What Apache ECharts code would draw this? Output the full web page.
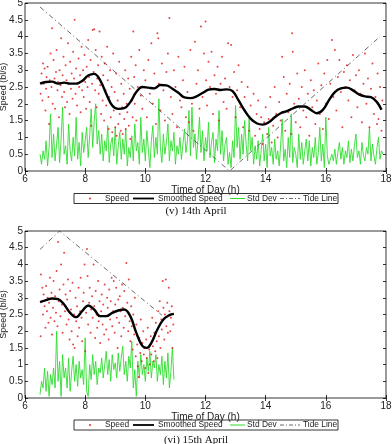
<!DOCTYPE html>
<html>
<head>
<meta charset="utf-8">
<script src="https://cdn.jsdelivr.net/npm/echarts@6/dist/echarts.min.js"></script>
<style>
html,body{margin:0;padding:0;background:#fff;}
#chart{width:392px;height:444px;}
</style>
</head>
<body>
<div id="chart"></div>
<script>
// ---- 14th April ----
const p1Speed = [[6.52,2.3],[6.55,2.9],[6.58,2.1],[6.6,3.2],[6.62,2.6],[6.65,3.05],[6.68,1.8],[6.7,2.45],[6.72,2.8],[6.75,3.1],[6.78,2.2],[6.8,1.4],[6.82,2.7],[6.85,3.5],[6.88,2.5],[6.9,4.25],[6.92,2.0],[6.95,3.3],[6.98,2.75],[7.0,1.85],[7.03,2.95],[7.05,3.6],[7.08,2.4],[7.1,2.65],[7.13,1.6],[7.15,3.0],[7.18,2.55],[7.2,3.95],[7.23,2.2],[7.25,2.85],[7.28,3.4],[7.3,2.35],[7.33,1.9],[7.35,3.15],[7.38,2.7],[7.4,2.05],[7.43,3.8],[7.45,2.6],[7.48,1.7],[7.5,3.25],[7.53,2.45],[7.55,2.9],[7.58,2.15],[7.6,3.55],[7.63,2.75],[7.65,4.5],[7.68,2.3],[7.7,3.05],[7.73,1.95],[7.75,2.6],[7.78,3.35],[7.8,2.5],[7.83,2.85],[7.85,1.75],[7.88,3.7],[7.9,2.4],[7.93,3.0],[7.95,2.2],[7.98,3.45],[8.0,2.65],[8.03,1.85],[8.05,3.1],[8.08,2.5],[8.1,3.9],[8.13,2.8],[8.15,2.05],[8.18,3.3],[8.2,1.35],[8.23,2.6],[8.25,4.2],[8.28,2.95],[8.3,4.22],[8.33,2.4],[8.35,3.6],[8.38,1.9],[8.4,2.75],[8.43,3.15],[8.45,2.3],[8.48,4.15],[8.5,2.55],[8.53,1.7],[8.55,3.4],[8.58,2.1],[8.6,2.85],[8.63,1.5],[8.65,3.2],[8.68,2.4],[8.7,1.95],[8.73,3.7],[8.75,2.7],[8.78,1.25],[8.8,2.2],[8.83,3.0],[8.85,1.6],[8.88,2.5],[8.9,1.15],[8.93,3.5],[8.95,1.8],[8.98,2.35],[9.0,1.3],[9.03,2.9],[9.05,1.05],[9.08,2.1],[9.1,1.4],[9.13,3.25],[9.15,1.7],[9.18,1.2],[9.2,2.6],[9.23,1.9],[9.25,1.1],[9.28,2.3],[9.3,1.55],[9.33,3.0],[9.35,1.25],[9.38,2.0],[9.4,1.75],[9.43,2.75],[9.45,1.35],[9.48,2.45],[9.5,0.95],[9.53,3.4],[9.55,2.1],[9.58,1.6],[9.6,4.15],[9.63,2.8],[9.65,2.0],[9.68,3.15],[9.7,1.5],[9.75,2.5],[9.8,3.6],[9.85,2.25],[9.9,1.85],[9.95,3.0],[10.0,2.7],[10.05,1.6],[10.1,3.3],[10.15,2.3],[10.2,3.8],[10.25,2.0],[10.3,2.9],[10.35,1.4],[10.4,4.1],[10.43,3.95],[10.45,2.6],[10.5,1.8],[10.55,3.2],[10.6,2.4],[10.65,1.5],[10.7,2.95],[10.75,3.5],[10.8,4.55],[10.85,2.2],[10.9,1.7],[10.95,3.0],[11.0,2.5],[11.05,1.3],[11.1,3.4],[11.15,2.1],[11.2,1.9],[11.25,2.7],[11.3,3.1],[11.35,1.6],[11.4,2.35],[11.45,1.45],[11.5,3.6],[11.55,2.0],[11.6,1.2],[11.65,3.85],[11.7,2.6],[11.75,3.0],[11.8,1.85],[11.85,4.3],[11.9,2.2],[11.95,3.5],[12.0,4.45],[12.02,2.7],[12.05,1.95],[12.1,3.25],[12.15,2.5],[12.2,3.55],[12.25,1.7],[12.3,2.85],[12.35,2.3],[12.4,3.1],[12.45,1.5],[12.5,2.6],[12.55,3.4],[12.6,2.05],[12.65,2.75],[12.7,1.85],[12.75,3.8],[12.8,2.5],[12.85,3.75],[12.9,2.2],[12.95,2.95],[13.0,1.6],[13.05,2.4],[13.1,3.15],[13.15,1.9],[13.2,2.65],[13.25,1.3],[13.3,2.2],[13.35,1.75],[13.4,2.5],[13.45,1.2],[13.5,1.95],[13.55,1.5],[13.6,2.3],[13.65,1.05],[13.7,1.7],[13.75,2.1],[13.8,1.25],[13.85,1.6],[13.9,0.8],[13.95,1.45],[14.0,1.9],[14.05,1.1],[14.1,1.55],[14.15,2.2],[14.2,0.85],[14.25,1.35],[14.3,2.5],[14.35,1.7],[14.4,1.0],[14.45,2.05],[14.5,1.5],[14.55,3.4],[14.6,2.8],[14.65,1.2],[14.7,2.3],[14.75,1.75],[14.8,2.6],[14.85,1.1],[14.88,4.1],[14.9,3.55],[14.95,2.0],[15.0,1.45],[15.05,2.9],[15.1,2.15],[15.15,1.3],[15.2,2.5],[15.25,1.8],[15.3,3.0],[15.35,1.6],[15.4,2.3],[15.45,1.05],[15.5,2.7],[15.55,1.9],[15.6,2.4],[15.65,1.4],[15.7,2.1],[15.75,3.2],[15.8,1.7],[15.85,2.55],[15.9,1.25],[15.95,2.9],[16.0,2.0],[16.05,3.3],[16.1,1.55],[16.15,2.6],[16.2,3.9],[16.25,2.2],[16.3,3.6],[16.35,1.8],[16.4,2.8],[16.45,3.3],[16.5,2.35],[16.55,1.3],[16.6,2.95],[16.65,2.5],[16.7,3.15],[16.75,2.1],[16.8,2.7],[16.85,1.6],[16.9,3.45],[16.95,2.4],[17.0,2.85],[17.05,1.9],[17.1,3.0],[17.15,2.3],[17.2,1.45],[17.25,2.6],[17.3,3.5],[17.35,2.0],[17.4,2.75],[17.45,1.3],[17.5,2.45],[17.55,3.2],[17.6,1.7],[17.65,2.2],[17.7,1.4],[17.72,2.9],[17.75,1.55],[17.8,2.5],[17.85,1.2],[17.88,2.1]];

const p1Smooth = [[6.5,2.6],[6.7,2.65],[6.9,2.66],[7.1,2.6],[7.3,2.63],[7.5,2.6],[7.7,2.6],[7.9,2.68],[8.1,2.84],[8.3,2.89],[8.5,2.7],[8.7,2.3],[8.9,1.95],[9.1,1.85],[9.3,1.87],[9.5,2.05],[9.7,2.35],[9.9,2.5],[10.1,2.48],[10.3,2.46],[10.5,2.56],[10.7,2.55],[10.9,2.45],[11.1,2.33],[11.3,2.19],[11.5,2.17],[11.7,2.22],[11.9,2.32],[12.1,2.42],[12.3,2.44],[12.5,2.41],[12.7,2.43],[12.9,2.38],[13.1,2.1],[13.3,1.8],[13.5,1.56],[13.7,1.42],[13.9,1.38],[14.1,1.45],[14.3,1.6],[14.5,1.72],[14.7,1.78],[14.9,1.86],[15.1,1.92],[15.3,1.92],[15.5,1.82],[15.7,1.72],[15.9,1.82],[16.1,2.1],[16.3,2.35],[16.5,2.46],[16.7,2.48],[16.9,2.4],[17.1,2.28],[17.3,2.22],[17.5,2.2],[17.7,2.05],[17.85,1.82]];

const p1StdStart = 6.5;
const p1Std = [0.5,0.2,0.6,0.35,0.9,0.15,0.7,1.7,0.4,1.1,0.3,0.8,1.3,0.25,0.95,1.9,0.5,0.75,0.2,1.4,
  0.6,0.3,1.0,0.45,1.6,0.35,0.85,0.15,1.15,0.55,0.9,1.3,0.4,1.05,1.85,0.7,1.5,2.0,0.8,1.2,
  0.5,1.1,0.3,0.9,0.6,1.35,0.25,0.8,1.0,0.45,1.3,0.2,0.75,1.15,0.35,0.95,0.5,1.25,0.15,0.7,
  0.4,1.05,0.3,1.4,0.6,0.85,0.2,1.6,0.55,0.95,0.3,1.2,0.65,0.1,0.9,1.35,0.4,1.0,0.5,2.15,
  0.7,0.25,1.1,0.5,0.85,1.4,0.3,0.9,0.6,1.15,0.2,0.75,0.5,1.0,0.35,0.8,1.25,0.55,0.9,1.8,
  0.45,1.9,0.7,1.1,0.35,0.9,1.6,0.55,1.2,0.3,1.0,0.6,1.45,0.4,0.85,1.15,0.25,0.95,0.6,1.8,
  0.5,1.2,0.3,0.8,1.0,0.2,0.55,0.1,0.9,0.4,1.95,0.7,1.3,0.35,1.1,0.5,1.5,0.8,0.3,1.6,
  0.6,1.0,0.2,0.75,0.35,0.9,0.15,0.6,1.1,0.3,0.8,0.1,1.3,0.45,0.7,0.2,0.95,0.35,0.6,0.15,
  0.8,1.55,0.3,0.65,0.1,1.0,0.4,1.7,0.25,0.7,0.5,0.1,1.1,0.35,0.85,0.2,0.6,0.95,0.3,0.9,
  0.15,0.7,0.4,1.0,0.2,0.55,1.3,0.3,0.8,0.1,1.6,0.45,0.2,0.15,0.5,0.3,0.65,0.2,0.55,0.85,
  0.35,0.7,0.2,0.6,0.4,0.9,0.25,0.65,0.3,0.75,1.1,0.4,0.6,0.2,0.85,0.45,0.3,0.7,0.5,1.3,
  0.3,0.8,0.45,0.2,0.7,1.0,0.35,0.6,0.5];

const p1Tide = [[6.5,4.88],[12.8,0],[17.8,4.0]];

// ---- 15th April ----
const p2Speed = [[6.52,1.85],[6.53,3.7],[6.56,2.9],[6.58,3.3],[6.6,2.5],[6.62,3.1],[6.65,2.75],[6.68,2.1],[6.7,3.35],[6.73,2.6],[6.75,3.0],[6.78,2.25],[6.8,2.85],[6.83,3.6],[6.85,2.4],[6.88,3.15],[6.9,1.9],[6.93,2.7],[6.95,3.5],[6.98,2.3],[7.0,3.05],[7.03,2.55],[7.05,3.8],[7.08,2.15],[7.1,4.67],[7.12,2.9],[7.15,3.25],[7.18,2.45],[7.2,4.0],[7.23,2.8],[7.25,1.95],[7.28,3.4],[7.3,4.35],[7.33,2.6],[7.35,3.1],[7.38,2.2],[7.4,2.95],[7.43,3.55],[7.45,2.35],[7.48,1.75],[7.5,3.2],[7.53,2.65],[7.55,2.0],[7.58,3.45],[7.6,1.6],[7.63,2.5],[7.65,1.5],[7.68,3.0],[7.7,2.3],[7.73,2.75],[7.75,1.85],[7.78,3.3],[7.8,2.1],[7.83,2.6],[7.85,3.6],[7.88,2.4],[7.9,1.7],[7.93,2.9],[7.95,3.15],[7.98,4.0],[8.0,1.4],[8.03,2.55],[8.06,4.46],[8.08,3.65],[8.1,2.2],[8.13,2.85],[8.15,3.3],[8.18,1.95],[8.2,2.65],[8.23,3.05],[8.25,2.4],[8.28,4.0],[8.3,2.75],[8.33,1.8],[8.35,3.2],[8.38,2.5],[8.4,2.1],[8.43,3.5],[8.45,2.3],[8.48,2.9],[8.5,1.65],[8.53,2.6],[8.55,3.1],[8.58,2.2],[8.6,2.8],[8.63,1.9],[8.65,3.4],[8.68,2.45],[8.7,2.05],[8.73,3.0],[8.75,2.7],[8.78,1.75],[8.8,3.25],[8.83,2.35],[8.85,2.9],[8.88,3.6],[8.9,2.15],[8.93,2.6],[8.95,3.5],[8.98,1.95],[9.0,2.8],[9.03,3.3],[9.05,2.4],[9.08,1.5],[9.1,2.95],[9.13,2.25],[9.15,3.05],[9.18,2.6],[9.2,1.85],[9.23,3.4],[9.25,2.7],[9.28,2.1],[9.3,3.2],[9.33,2.45],[9.37,4.04],[9.4,2.85],[9.43,2.0],[9.45,3.55],[9.48,2.3],[9.5,1.7],[9.53,2.75],[9.55,2.15],[9.58,1.45],[9.6,2.5],[9.63,1.9],[9.65,3.0],[9.68,1.25],[9.7,2.2],[9.73,1.6],[9.75,0.95],[9.78,0.63],[9.8,1.8],[9.83,1.35],[9.85,2.35],[9.88,1.1],[9.9,1.65],[9.93,2.0],[9.95,1.3],[9.98,1.5],[10.0,0.9],[10.03,1.75],[10.05,1.2],[10.08,2.1],[10.1,0.75],[10.13,1.45],[10.15,1.0],[10.18,1.85],[10.2,1.3],[10.23,2.4],[10.25,1.55],[10.28,1.1],[10.3,1.95],[10.33,1.4],[10.35,2.25],[10.38,1.7],[10.4,1.2],[10.43,2.6],[10.45,1.85],[10.48,2.9],[10.5,1.5],[10.53,2.35],[10.55,2.05],[10.58,3.5],[10.6,2.7],[10.63,1.75],[10.65,2.5],[10.68,3.55],[10.7,2.15],[10.73,2.85],[10.75,1.95],[10.78,3.3],[10.8,2.6],[10.83,2.0],[10.85,2.4],[10.88,2.75],[10.9,1.5],[10.93,2.2]];

const p2Smooth = [[6.5,2.87],[6.7,2.93],[6.9,2.98],[7.1,2.96],[7.3,2.8],[7.5,2.55],[7.7,2.42],[7.9,2.6],[8.1,2.77],[8.3,2.65],[8.5,2.45],[8.7,2.45],[8.9,2.55],[9.1,2.62],[9.3,2.65],[9.5,2.45],[9.7,1.95],[9.9,1.56],[10.05,1.5],[10.2,1.65],[10.4,2.05],[10.6,2.35],[10.8,2.48],[10.95,2.52]];

const p2StdStart = 6.5;
const p2Std = [0.1,0.5,0.3,0.9,0.2,0.8,0.05,0.7,0.4,0.9,
  0.3,2.0,0.5,1.1,0.05,1.3,0.6,0.9,0.3,1.2,
  0.2,0.8,1.25,0.5,1.0,0.35,1.1,0.6,0.85,0.4,
  1.8,0.2,0.05,1.0,0.55,1.3,0.7,1.1,0.4,0.9,
  0.75,1.2,0.6,1.0,1.4,0.7,1.15,0.5,1.3,0.85,
  1.05,0.6,1.35,0.8,1.2,1.55,0.7,1.1,0.5,1.25,
  0.9,1.7,0.3,0.85,0.05,1.1,0.6,1.3,0.7,1.0,
  0.5,1.2,0.8,1.4,0.6,1.1,0.9,1.3,0.5,1.0,
  0.7,1.25,0.4,1.1,0.6,1.35,0.3,0.8,1.5,0.55];

const p2Tide = [[6.5,4.45],[7.15,5.0],[10.55,2.48]];

const stdStep = 0.05;
const legendNames = ['Speed', 'Smoothed Speed', 'Std Dev', 'Tide Line'];
const captions = ['(v) 14th April', '(vi) 15th April'];

let myChart = echarts.init(document.getElementById('chart'));

function stdPairs(start, vals) {
    return vals.map(function (v, i) {
        return [+(start + i * stdStep).toFixed(2), v];
    });
}

const font = 'Liberation Sans';

function xAxis(grid, pos) {
    let main = pos === 'bottom';
    return {
        type: 'value', gridIndex: grid, position: pos,
        min: 6, max: 18, interval: 2,
        axisLine: { show: false },
        axisTick: { show: true, inside: true, length: 3, lineStyle: { color: '#000', width: 0.8 } },
        axisLabel: { show: main, color: '#222', fontSize: 10, fontFamily: font, margin: 3 },
        splitLine: { show: false },
        name: main ? 'Time of Day (h)' : '',
        nameLocation: 'middle', nameGap: 14, nameMoveOverlap: false,
        nameTextStyle: { color: '#222', fontSize: 10, fontFamily: font }
    };
}

function yAxis(grid, pos) {
    let main = pos === 'left';
    return {
        type: 'value', gridIndex: grid, position: pos,
        min: 0, max: 5, interval: 0.5,
        axisLine: { show: false },
        axisTick: { show: true, inside: true, length: 3, lineStyle: { color: '#000', width: 0.8 } },
        axisLabel: { show: main, color: '#222', fontSize: 10, fontFamily: font, margin: 2 },
        splitLine: { show: false },
        name: main ? 'Speed (bl/s)' : '',
        nameLocation: 'middle', nameGap: 17, nameMoveOverlap: false,
        nameTextStyle: { color: '#222', fontSize: 9, fontFamily: font }
    };
}

function panelSeries(ax, speed, smooth, stdStart, std, tide) {
    return [
        {
            name: 'Std Dev', type: 'line', xAxisIndex: ax, yAxisIndex: ax,
            data: stdPairs(stdStart, std), symbol: 'none',
            lineStyle: { color: '#2fdc2f', width: 0.9 }, z: 2
        },
        {
            name: 'Speed', type: 'scatter', xAxisIndex: ax, yAxisIndex: ax,
            data: speed, symbolSize: 2,
            itemStyle: { color: '#e01818' }, z: 3
        },
        {
            name: 'Smoothed Speed', type: 'line', xAxisIndex: ax, yAxisIndex: ax,
            data: smooth, symbol: 'none', smooth: 0.4,
            lineStyle: { color: '#000', width: 2.4 }, z: 4
        },
        {
            name: 'Tide Line', type: 'line', xAxisIndex: ax, yAxisIndex: ax,
            data: tide, symbol: 'none',
            lineStyle: { color: '#444', width: 0.8, type: [5, 3, 1, 3] }, z: 5
        }
    ];
}

function legendBox(yc) {
    let txt = function (x, s) {
        return { type: 'text', x: x, y: yc, style: { text: s, fill: '#222', font: '8.4px "Liberation Sans"', textVerticalAlign: 'middle' } };
    };
    return [
        { type: 'rect', shape: { x: 74, y: yc - 5, width: 264, height: 10 }, style: { fill: '#fff', stroke: '#000', lineWidth: 0.8 } },
        { type: 'circle', shape: { cx: 90, cy: yc, r: 0.9 }, style: { fill: '#e01818' } },
        txt(105, legendNames[0]),
        { type: 'line', shape: { x1: 133, y1: yc, x2: 154, y2: yc }, style: { stroke: '#000', lineWidth: 1.8 } },
        txt(158, legendNames[1]),
        { type: 'line', shape: { x1: 230, y1: yc, x2: 245, y2: yc }, style: { stroke: '#2fdc2f', lineWidth: 1 } },
        txt(247, legendNames[2]),
        { type: 'line', shape: { x1: 280, y1: yc, x2: 300, y2: yc }, style: { stroke: '#444', lineWidth: 0.8, lineDash: [4, 2, 1, 2] } },
        txt(303, legendNames[3])
    ];
}

function caption(yc, s) {
    return { type: 'text', x: 196, y: yc, style: { text: s, fill: '#111', font: '11px "Liberation Serif"', textAlign: 'center', textVerticalAlign: 'middle' } };
}

const option = {
    animation: false,
    backgroundColor: '#fff',
    grid: [
        { left: 25, top: 3, width: 361, height: 168, show: true, borderColor: '#000', borderWidth: 0.8, outerBoundsMode: 'none', containLabel: false },
        { left: 25, top: 231, width: 361, height: 167, show: true, borderColor: '#000', borderWidth: 0.8, outerBoundsMode: 'none', containLabel: false }
    ],
    xAxis: [xAxis(0, 'bottom'), xAxis(0, 'top'), xAxis(1, 'bottom'), xAxis(1, 'top')],
    yAxis: [yAxis(0, 'left'), yAxis(0, 'right'), yAxis(1, 'left'), yAxis(1, 'right')],
    series: panelSeries(0, p1Speed, p1Smooth, p1StdStart, p1Std, p1Tide)
        .concat(panelSeries(2, p2Speed, p2Smooth, p2StdStart, p2Std, p2Tide)),
    graphic: legendBox(198.5).concat(legendBox(425)).concat([caption(211.5, captions[0]), caption(440, captions[1])])
};

myChart.setOption(option);
</script>
</body>
</html>
